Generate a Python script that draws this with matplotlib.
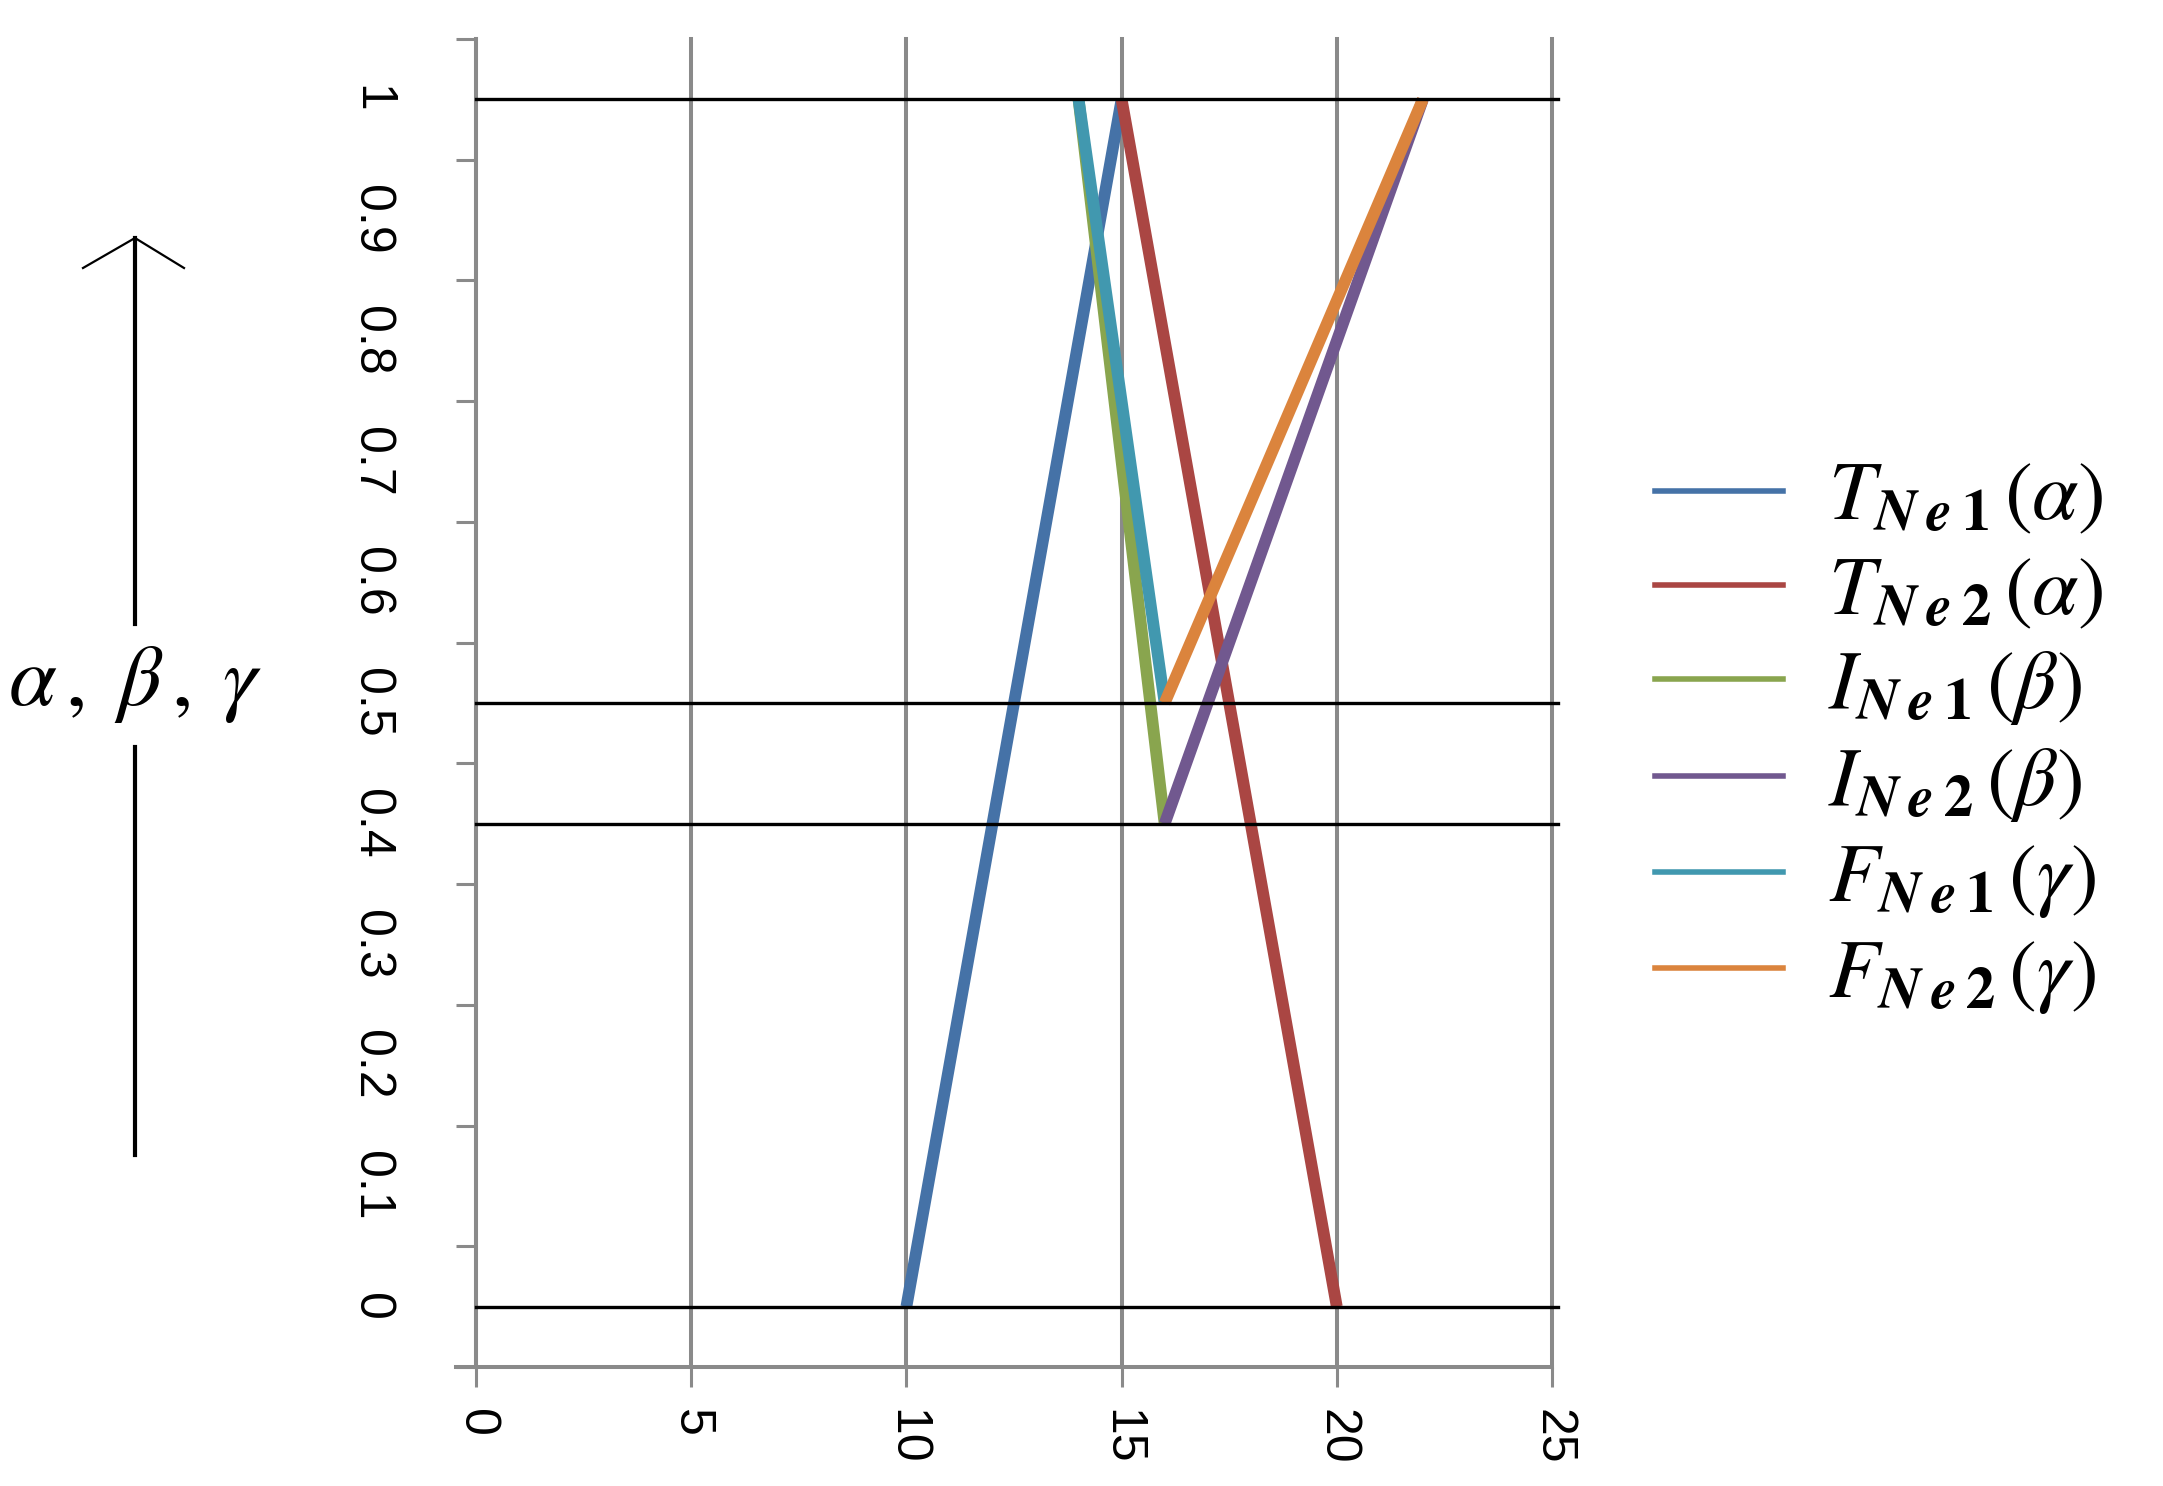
import matplotlib
matplotlib.use("Agg")
import matplotlib.pyplot as plt
from matplotlib.lines import Line2D

# ---- data ----
series_labels = [r'$T_{\mathbfit{N}\:\mathbfit{e}\:\mathbf{1}}\,(\alpha)$',
                 r'$T_{\mathbfit{N}\:\mathbfit{e}\:\mathbf{2}}\,(\alpha)$',
                 r'$I_{\mathbfit{N}\:\mathbfit{e}\:\mathbf{1}}\,(\beta)$',
                 r'$I_{\mathbfit{N}\:\mathbfit{e}\:\mathbf{2}}\,(\beta)$',
                 r'$F_{\mathbfit{N}\:\mathbfit{e}\:\mathbf{1}}\,(\gamma)$',
                 r'$F_{\mathbfit{N}\:\mathbfit{e}\:\mathbf{2}}\,(\gamma)$']
t_ne1_x = [10, 15]
t_ne1_y = [0, 1]
t_ne2_x = [15, 20]
t_ne2_y = [1, 0]
i_ne1_x = [14, 16]
i_ne1_y = [1, 0.4]
i_ne2_x = [16, 22]
i_ne2_y = [0.4, 1]
f_ne1_x = [14, 16]
f_ne1_y = [1, 0.5]
f_ne2_x = [16, 22]
f_ne2_y = [0.5, 1]
series_colors = ['#4572A7', '#AA4643', '#89A54E', '#71588F', '#4198AF', '#DB843D']

ref_levels = [0, 0.4, 0.5, 1]          # black horizontal reference lines
x_ticks = [0, 5, 10, 15, 20, 25]
x_ticklabels = ['0', '5', '10', '15', '20', '25']
y_ticks = [0, 0.1, 0.2, 0.3, 0.4, 0.5, 0.6, 0.7, 0.8, 0.9, 1]
y_ticklabels = ['0', '0.1', '0.2', '0.3', '0.4', '0.5', '0.6', '0.7', '0.8', '0.9', '1']
y_minor = [-0.05, 0.05, 0.15, 0.25, 0.35, 0.45, 0.55, 0.65, 0.75, 0.85, 0.95, 1.05]

plt.rcParams['mathtext.fontset'] = 'stix'
tick_font = ['Liberation Sans Narrow', 'Liberation Sans', 'DejaVu Sans']

W, H = 2163, 1486
fig = plt.figure(figsize=(W / 100, H / 100), dpi=100)
ax = fig.add_axes([476 / W, 1 - 1367 / H, (1552 - 476) / W, (1367 - 39) / H])

gray = '#8a8a8a'
series = [(t_ne1_x, t_ne1_y), (t_ne2_x, t_ne2_y), (i_ne1_x, i_ne1_y),
          (i_ne2_x, i_ne2_y), (f_ne1_x, f_ne1_y), (f_ne2_x, f_ne2_y)]
for (xs, ys), c in zip(series, series_colors):
    ax.plot(xs, ys, color=c, lw=8.5, solid_capstyle='butt', solid_joinstyle='round', zorder=3)

for lv in ref_levels:
    ax.plot([0, 25.15], [lv, lv], color='black', lw=2.4, zorder=5, clip_on=False)

ax.set_xlim(0, 25)
ax.set_ylim(-0.05, 1.05)

ax.set_xticks(x_ticks)
ax.set_xticklabels(x_ticklabels, rotation=270, family=tick_font, fontsize=36)
ax.set_yticks(y_ticks)
ax.set_yticklabels(y_ticklabels, rotation=270, family=tick_font, fontsize=36, va='center')
ax.set_yticks(y_minor, minor=True)

ax.tick_params(axis='x', which='major', length=14.4, width=2.2, color=gray, pad=16, direction='out')
ax.tick_params(axis='y', which='major', length=0, pad=59)
ax.tick_params(axis='y', which='minor', length=14.4, width=2.2, color=gray, direction='out')

ax.xaxis.grid(True, color=gray, lw=2.9, zorder=1)
for gl in ax.get_xgridlines():
    gl.set_clip_on(False)
ax.set_axisbelow(True)

for s in ['top', 'right']:
    ax.spines[s].set_visible(False)
for s in ['left', 'bottom']:
    ax.spines[s].set_color(gray)
    ax.spines[s].set_linewidth(2.9)
ax.spines['bottom'].set_bounds(-0.47, 25)

# legend
handles = [Line2D([], [], color=c, lw=4.0) for c in series_colors]
fs_leg = 60
em = fs_leg * 100 / 72
fig.legend(handles, series_labels, loc='center left', bbox_to_anchor=(1655 / W, 1 - 736 / H),
           frameon=False, fontsize=fs_leg, handlelength=128 / em,
           handletextpad=45 / em,
           labelspacing=0.16, borderpad=0, borderaxespad=0)

# y label with arrow
fig.text(135 / W, 1 - 684 / H, r'$\alpha\,,\;\beta\,,\;\gamma$', fontsize=62, ha='center', va='center')
ax_x = 135 / W
fig.add_artist(Line2D([ax_x, ax_x], [1 - 1155 / H, 1 - 747 / H], color='black', lw=3,
                      transform=fig.transFigure))
fig.add_artist(Line2D([ax_x, ax_x], [1 - 624 / H, 1 - 238 / H], color='black', lw=3,
                      transform=fig.transFigure))
fig.add_artist(Line2D([83 / W, ax_x, 184 / W], [1 - 268 / H, 1 - 238 / H, 1 - 268 / H],
                      color='black', lw=1.6, transform=fig.transFigure))

fig.savefig('out.png', dpi=100, facecolor='white')
